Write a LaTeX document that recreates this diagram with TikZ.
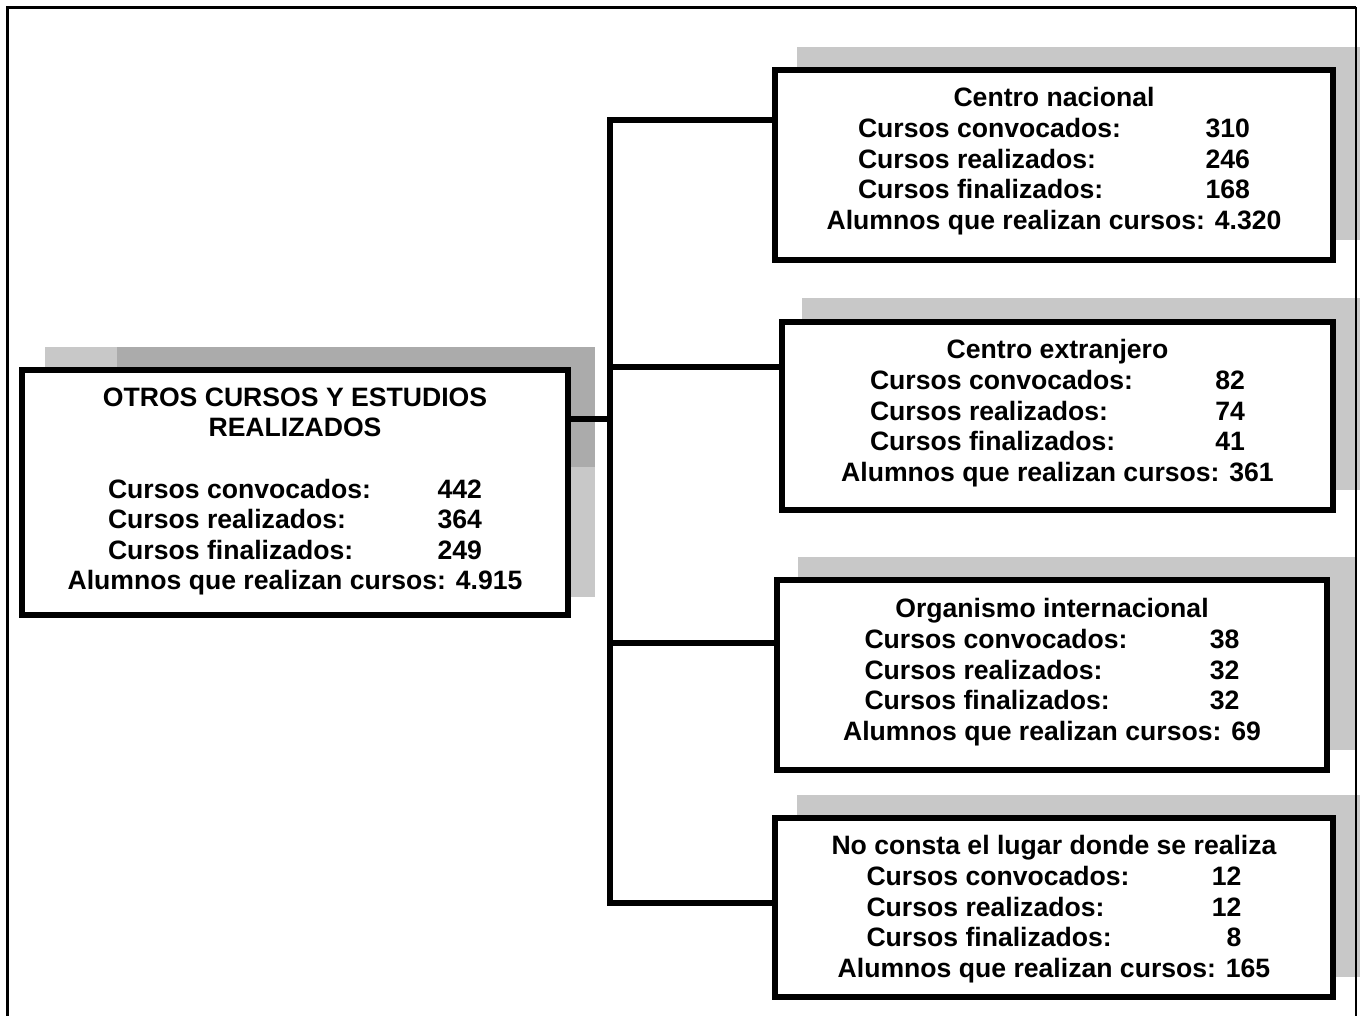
\documentclass[tikz,border=0pt]{standalone}
\usepackage{fontspec}
\setmainfont{Liberation Sans}
\usetikzlibrary{positioning}

\definecolor{sombraclara}{gray}{0.785}
\definecolor{sombraoscura}{gray}{0.67}

% one row of a box: label left, number right, in a block of fixed width
\newcommand{\fila}[3][375pt]{\makebox[#1][l]{#2\hfill#3}}

\tikzset{
  caja/.style={draw, line width=5.5pt, fill=white, inner sep=0pt},
  texto/.style={anchor=north, align=center, inner sep=0pt,
    font=\bfseries\fontsize{26.6}{30.6}\selectfont},
  sombra/.style={fill=sombraclara},
  conector/.style={line width=5.5pt},
  marco/.style={line width=3.5pt}
}

\begin{document}
\begin{tikzpicture}[x=1pt, y=-1pt]
  \useasboundingbox (0,0) rectangle (1360,1016);

  % shadows behind the boxes
  \fill[sombra] (45,347) rectangle (595,597);
  \fill[sombraoscura] (117,347) rectangle (595,467);
  \fill[sombra] (797,47) rectangle (1360,240);
  \fill[sombra] (802,298) rectangle (1360,490);
  \fill[sombra] (798,557) rectangle (1355,750);
  \fill[sombra] (797,795) rectangle (1360,977);

  % boxes
  \node[caja, minimum width=546pt, minimum height=245pt] (izq) at (295,492.5) {};
  \node[caja, minimum width=558pt, minimum height=190pt] (nacional) at (1054,165) {};
  \node[caja, minimum width=551pt, minimum height=188pt] (extranjero) at (1057.5,416) {};
  \node[caja, minimum width=550pt, minimum height=190pt] (organismo) at (1052,675) {};
  \node[caja, minimum width=558pt, minimum height=179pt] (noconsta) at (1054,907.5) {};

  % connectors
  \coordinate (nudo) at (610,419);
  \coordinate (r1) at (610,120);
  \coordinate (r2) at (610,367);
  \coordinate (r3) at (610,643);
  \coordinate (r4) at (610,903);
  \draw[conector] (izq.east |- nudo) -- (nudo);
  \draw[conector] (nacional.west |- r1) -- (r1) -- (r4) -- (noconsta.west |- r4);
  \draw[conector] (r2) -- (extranjero.west |- r2);
  \draw[conector] (r3) -- (organismo.west |- r3);

  % texts
  \node[texto] (izqtxt) at (295,387.5) {OTROS CURSOS Y ESTUDIOS\\REALIZADOS\\[30.6pt]
    \fila[374pt]{Cursos convocados:}{442}\\
    \fila[374pt]{Cursos realizados:}{364}\\
    \fila[374pt]{Cursos finalizados:}{249}\\
    Alumnos que realizan cursos: 4.915};
  \node[texto] (nacionaltxt) at (1054,87.5) {Centro nacional\\
    \fila[392pt]{Cursos convocados:}{310}\\
    \fila[392pt]{Cursos realizados:}{246}\\
    \fila[392pt]{Cursos finalizados:}{168}\\
    Alumnos que realizan cursos: 4.320};
  \node[texto] (extranjerotxt) at (1057.5,339.5) {Centro extranjero\\
    \fila{Cursos convocados:}{82}\\
    \fila{Cursos realizados:}{74}\\
    \fila{Cursos finalizados:}{41}\\
    Alumnos que realizan cursos: 361};
  \node[texto] (organismotxt) at (1052,598.5) {Organismo internacional\\
    \fila{Cursos convocados:}{38}\\
    \fila{Cursos realizados:}{32}\\
    \fila{Cursos finalizados:}{32}\\
    Alumnos que realizan cursos: 69};
  \node[texto] (noconstatxt) at (1054,835.5) {No consta el lugar donde se realiza\\
    \fila{Cursos convocados:}{12}\\
    \fila{Cursos realizados:}{12}\\
    \fila{Cursos finalizados:}{8}\\
    Alumnos que realizan cursos: 165};

  % outer frame
  \draw[marco] (7.5,1016) -- (7.5,7.5) -- (1356,7.5);
  \draw[marco, line width=2.5pt] (1356,7.5) -- (1356,1016);
\end{tikzpicture}
\end{document}
